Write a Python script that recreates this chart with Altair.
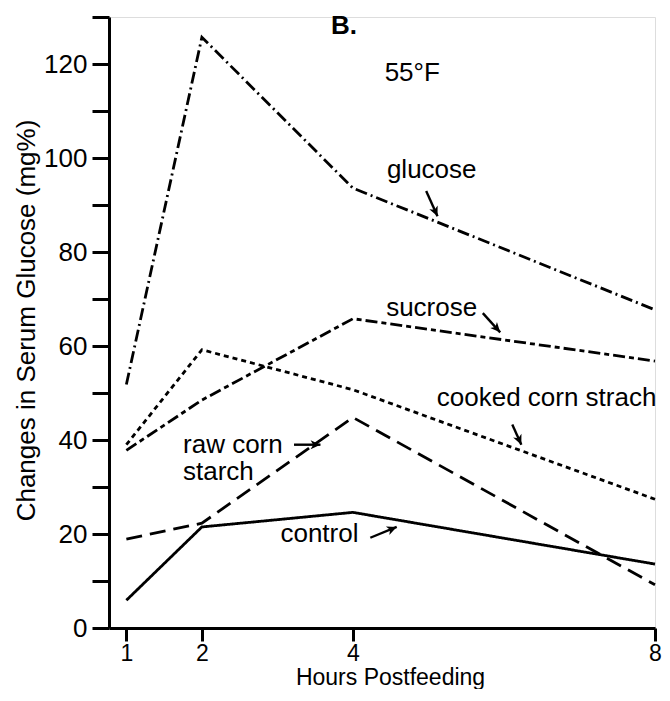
import math
import altair as alt
import pandas as pd

# ---- data ----
hours = [1, 2, 4, 8]
glucose = [51.8, 125.7, 93.6, 67.7]
sucrose = [37.8, 48.5, 65.8, 56.8]
cooked = [39.0, 59.2, 50.7, 27.4]
raw = [18.9, 22.3, 44.8, 9.2]
control = [5.9, 21.5, 24.6, 13.6]

series_names = ["glucose", "sucrose", "cooked corn strach", "raw corn starch", "control"]
series_values = [glucose, sucrose, cooked, raw, control]
dash_styles = [[12, 4, 2, 4], [12, 4, 5, 4], [5, 4], [16, 8], [1, 0]]

x_ticks = [1, 2, 4, 8]
y_ticks = list(range(0, 131, 10))

# annotation labels (data units: hours, mg%)
label_text = ["glucose", "sucrose", "cooked corn strach", "raw corn", "starch", "control"]
label_x = [4.45, 4.44, 5.11, 1.75, 1.75, 3.04]
label_y = [97.5, 68.1, 49.0, 39.0, 33.1, 20.0]

# arrows: start -> tip (data units)
arrow_x = [4.97, 5.72, 6.11, 3.22, 4.23]
arrow_y = [93.0, 67.0, 43.3, 39.0, 19.2]
arrow_x2 = [5.12, 5.95, 6.23, 3.57, 4.58]
arrow_y2 = [87.6, 62.9, 39.0, 39.0, 21.5]

# ---- layout ----
W, H = 546, 611
XDOM = [0.77, 8]
YDOM = [0, 130]
px_per_x = W / (XDOM[1] - XDOM[0])
px_per_y = H / (YDOM[1] - YDOM[0])

rows = []
for name, vals in zip(series_names, series_values):
    for h, v in zip(hours, vals):
        rows.append({"hours": h, "value": v, "series": name})
lines_df = pd.DataFrame(rows)

labels_df = pd.DataFrame({"text": label_text, "x": label_x, "y": label_y})

arrows_df = pd.DataFrame({"x": arrow_x, "y": arrow_y, "x2": arrow_x2, "y2": arrow_y2})
angles = []
for x1, y1, x2, y2 in zip(arrow_x, arrow_y, arrow_x2, arrow_y2):
    dx = (x2 - x1) * px_per_x
    dy = -(y2 - y1) * px_per_y  # screen coordinates (down positive)
    angles.append(math.degrees(math.atan2(dx, -dy)) % 360)
arrows_df["angle"] = angles

xscale = alt.Scale(domain=XDOM, nice=False, zero=False)
yscale = alt.Scale(domain=YDOM, nice=False, zero=False)

FONT = "Liberation Sans"
FS = 26

lines = alt.Chart(lines_df).mark_line(color="black", strokeWidth=2.8, strokeCap="butt").encode(
    x=alt.X("hours:Q", scale=xscale, axis=alt.Axis(
        values=x_ticks, format="d", title="Hours Postfeeding", grid=False, labelFlush=False,
        domainColor="black", domainWidth=3, tickColor="black", tickWidth=3, tickSize=13,
        labelFontSize=23, labelColor="black", labelPadding=1, labelFont=FONT,
        titleFontSize=23, titleFontWeight="normal", titleColor="black", titleFont=FONT,
        titleX=281, titleY=56, titleBaseline="alphabetic")),
    y=alt.Y("value:Q", scale=yscale, axis=alt.Axis(
        values=y_ticks, labelExpr="datum.value % 20 == 0 ? datum.label : ''",
        title="Changes in Serum Glucose (mg%)", grid=False, labelFlush=False,
        domainColor="black", domainWidth=3, tickColor="black", tickWidth=3, tickSize=17,
        labelFontSize=FS, labelColor="black", labelPadding=5, labelFont=FONT,
        titleFontSize=FS, titleFontWeight="normal", titleColor="black", titleFont=FONT,
        titleX=-83, titleY=303, titleBaseline="middle")),
    strokeDash=alt.StrokeDash("series:N", scale=alt.Scale(domain=series_names, range=dash_styles), legend=None),
    detail="series:N",
)

labels = alt.Chart(labels_df).mark_text(align="left", baseline="middle", fontSize=FS, font=FONT, color="black").encode(
    x=alt.X("x:Q", scale=xscale), y=alt.Y("y:Q", scale=yscale), text="text:N")

panel = alt.Chart(pd.DataFrame({"text": ["B."], "x": [3.71], "y": [128.0]})).mark_text(
    align="left", baseline="middle", fontSize=FS, fontWeight="bold", font=FONT, color="black").encode(
    x=alt.X("x:Q", scale=xscale), y=alt.Y("y:Q", scale=yscale), text="text:N")

temp = alt.Chart(pd.DataFrame({"text": ["55°F"], "x": [4.42], "y": [118.0]})).mark_text(
    align="left", baseline="middle", fontSize=FS, font=FONT, color="black").encode(
    x=alt.X("x:Q", scale=xscale), y=alt.Y("y:Q", scale=yscale), text="text:N")

shafts = alt.Chart(arrows_df).mark_rule(color="black", strokeWidth=2.4).encode(
    x=alt.X("x:Q", scale=xscale), y=alt.Y("y:Q", scale=yscale), x2="x2:Q", y2="y2:Q")

heads = alt.Chart(arrows_df).mark_point(
    shape="M0,0 L0.6,1.3 L0,0.95 L-0.6,1.3 Z", filled=True, color="black", opacity=1, size=230,
    strokeWidth=0).encode(
    x=alt.X("x2:Q", scale=xscale), y=alt.Y("y2:Q", scale=yscale),
    angle=alt.Angle("angle:Q", scale=None))

chart = alt.layer(lines, shafts, heads, labels, panel, temp).properties(
    width=W, height=H,
    autosize=alt.AutoSizeParams(type="none"),
    padding={"left": 101, "top": 9, "right": 7, "bottom": 61},
).configure_view(stroke=None).configure(font=FONT)

chart.save("out.html", embed_options={"renderer": "svg", "actions": False})
